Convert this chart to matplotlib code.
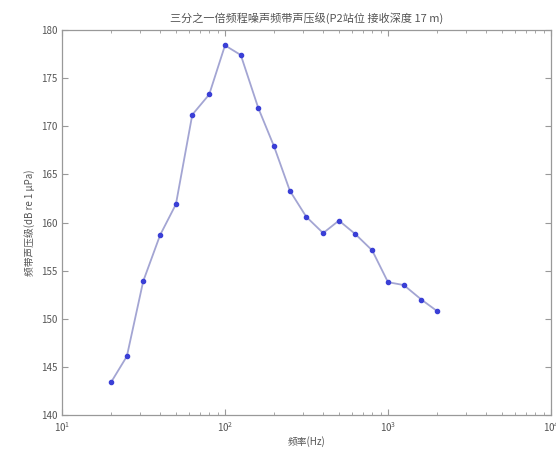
import matplotlib
matplotlib.use("Agg")
import matplotlib.pyplot as plt
from matplotlib.ticker import LogLocator

plt.rcParams['font.family'] = ['Noto Sans CJK SC', 'DejaVu Sans']
plt.rcParams['mathtext.fontset'] = 'dejavusans'

# 1/3-octave band centre frequencies (Hz) and band levels (dB re 1 μPa)
freq = [20, 25, 31.5, 40, 50, 63, 80, 100, 125, 160, 200, 250, 315, 400,
        500, 630, 800, 1000, 1250, 1600, 2000]
level = [143.4, 146.1, 153.9, 158.7, 161.9, 171.2, 173.3, 178.4, 177.4,
         171.9, 167.9, 163.3, 160.6, 158.9, 160.2, 158.8, 157.1, 153.8,
         153.5, 152.0, 150.8]
y_ticks = [140, 145, 150, 155, 160, 165, 170, 175, 180]

title = "三分之一倍频程噪声频带声压级(P2站位 接收深度 17 m)"
xlabel = "频率(Hz)"
ylabel = "频带声压级(dB re 1 μPa)"

fig = plt.figure(figsize=(5.56, 4.51), dpi=100)
ax = fig.add_axes([0.1115, 0.0798, 0.8795, 0.8537])

ax.plot(freq, level, color='#a3a5d3', lw=1.3, zorder=2)
ax.plot(freq, level, linestyle='none', marker='o', ms=3.0,
        color='#3a3fd6', zorder=3)

ax.set_xscale('log')
ax.set_xlim(10, 1e4)
ax.set_ylim(140, 180)
ax.set_yticks(y_ticks)
ax.xaxis.set_minor_locator(LogLocator(base=10, subs=range(2, 10)))

text_col = '#555555'
for s in ax.spines.values():
    s.set_color('#999999')
    s.set_linewidth(0.9)
ax.tick_params(which='both', direction='in', top=True, right=True,
               colors='#999999', labelcolor=text_col, labelsize=7)
ax.tick_params(which='major', length=4)
ax.tick_params(which='minor', length=2)

ax.set_title(title, fontsize=8, color=text_col, pad=6)
ax.set_xlabel(xlabel, fontsize=7, color=text_col, labelpad=2)
ax.set_ylabel(ylabel, fontsize=7, color=text_col, labelpad=4)

fig.savefig("out.png", dpi=100)
